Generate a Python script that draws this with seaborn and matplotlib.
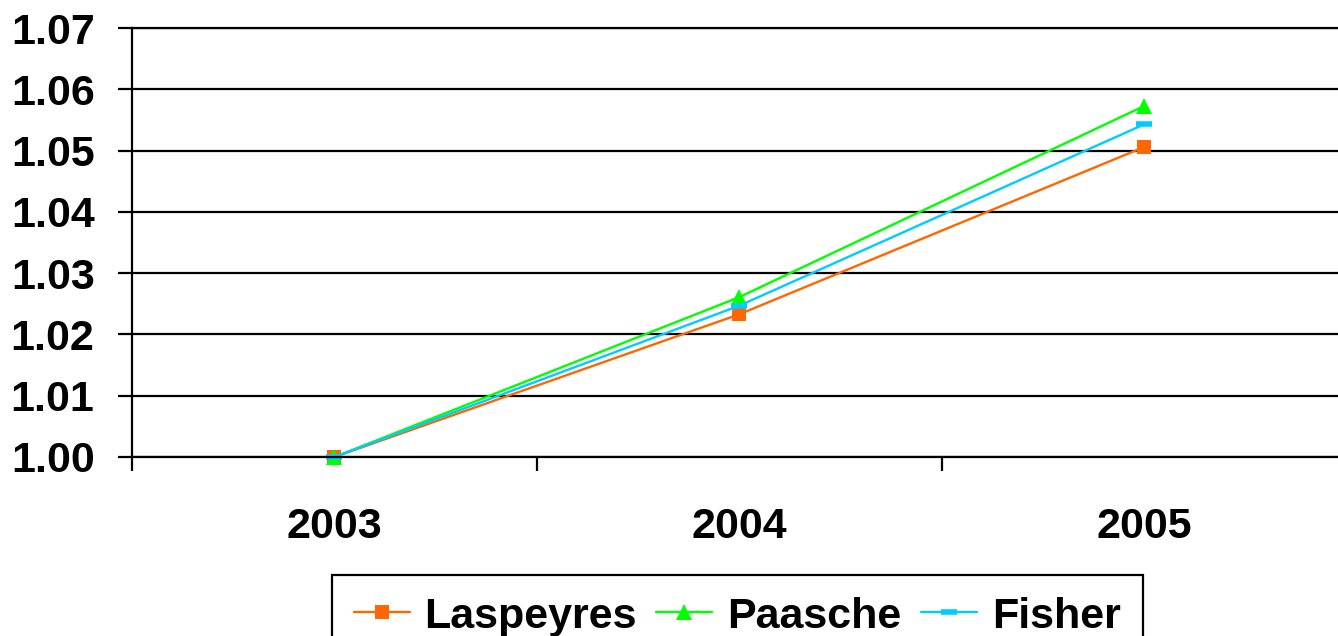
import pandas as pd
import seaborn as sns
import matplotlib.pyplot as plt

# 데이터
years = ['2003', '2004', '2005']
laspeyres = [1.0000, 1.0233, 1.0506]
paasche = [1.0000, 1.0261, 1.0573]
fisher = [1.0000, 1.0247, 1.0543]

sns.set_style("white")
plt.rcParams['font.family'] = ['Liberation Sans', 'DejaVu Sans']
plt.rcParams['font.weight'] = 'bold'

fig = plt.figure(figsize=(13.38, 6.36), dpi=100)
ax = fig.add_axes([132 / 1338, 179 / 636, 1215 / 1338, 429 / 636])

series = [
    ('Laspeyres', laspeyres, '#FF6600', 's', 10, 0),
    ('Paasche', paasche, '#00FF00', '^', 11, 0),
    ('Fisher', fisher, '#00CCFF', '_', 11, 4),
]
for name, vals, color, marker, ms, mew in series:
    df = pd.DataFrame({'Year': years, 'Index': vals})
    sns.lineplot(data=df, x='Year', y='Index', ax=ax, color=color, marker=marker,
                 markersize=ms, markeredgewidth=mew, markeredgecolor=color,
                 linewidth=1.7, label=name, clip_on=False)

ax.set_xlim(-0.5, 2.5)
ax.set_ylim(1.00, 1.07)
ax.set_yticks([1.00, 1.01, 1.02, 1.03, 1.04, 1.05, 1.06, 1.07])
ax.set_yticklabels([f'{v:.2f}' for v in ax.get_yticks()])
ax.set_xticks([0, 1, 2])
ax.set_xticks([-0.5, 0.5, 1.5], minor=True)
ax.set_xlabel('')
ax.set_ylabel('')

ax.grid(axis='y', color='black', linewidth=1.6)
ax.set_axisbelow(True)
for side in ['left', 'bottom', 'top']:
    ax.spines[side].set_color('black')
    ax.spines[side].set_linewidth(1.6)
ax.spines['right'].set_visible(False)

ax.tick_params(axis='y', which='major', direction='out', length=10, width=1.6,
               left=True, labelsize=31, pad=17, colors='black')
ax.tick_params(axis='x', which='major', length=0, labelsize=31, pad=36, colors='black')
ax.tick_params(axis='x', which='minor', direction='out', length=10, width=1.6,
               bottom=True, colors='black')
for lbl in ax.get_xticklabels() + ax.get_yticklabels():
    lbl.set_fontweight('bold')

leg = ax.legend(loc='upper left', bbox_to_anchor=(332 / 1338, 61 / 636),
                bbox_transform=fig.transFigure, borderaxespad=0, ncol=3,
                frameon=True, fancybox=False, framealpha=1, labelcolor='black',
                prop={'size': 31, 'weight': 'bold'}, handlelength=1.3,
                handletextpad=0.35, columnspacing=0.45, borderpad=0.5)
leg.get_frame().set_edgecolor('black')
leg.get_frame().set_linewidth(1.6)

fig.savefig('out.png', dpi=100)
